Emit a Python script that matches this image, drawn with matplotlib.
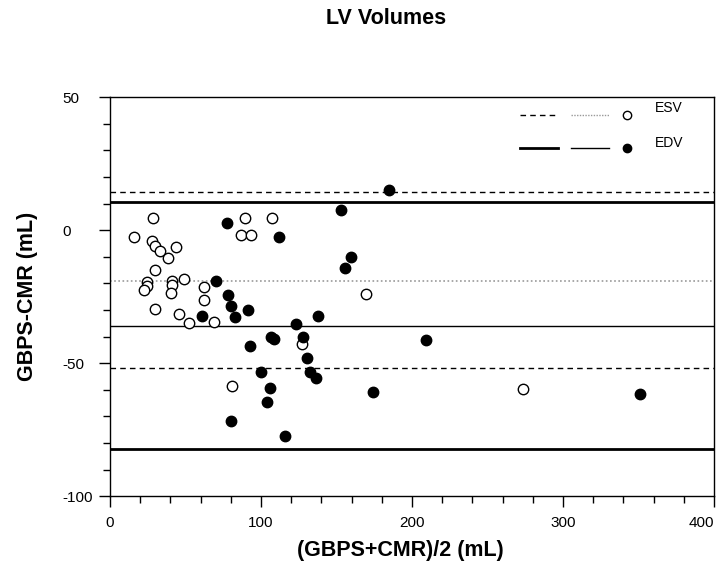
#!/usr/bin/env python3

import numpy as np
import matplotlib
matplotlib.use('Agg')
import matplotlib.pyplot as plt
from matplotlib.ticker import MultipleLocator

plt.rcParams['font.family'] = ['Liberation Sans', 'DejaVu Sans']
plt.rcParams['axes.unicode_minus'] = False

# ESV (open circles): mean and difference
esv_mean = [28.4, 16.0, 27.8, 29.5, 32.8, 43.9, 38.1, 29.5, 24.8, 24.2,
            22.4, 41.1, 40.8, 40.4, 48.8, 29.8, 45.7, 52.4, 62.4, 62.4,
            69.2, 86.7, 93.6, 89.6, 107.4, 169.6, 126.9, 80.5, 273.7]
esv_diff = [4.6, -2.5, -4.0, -6.0, -7.8, -6.3, -10.6, -15.0, -19.5, -20.9,
            -22.4, -19.2, -20.6, -23.8, -18.3, -29.6, -31.7, -35.0, -21.2, -26.4,
            -34.6, -1.9, -1.9, 4.4, 4.6, -24.1, -42.9, -58.4, -59.9]

# EDV (filled circles)
edv_mean = [77.2, 111.8, 70.1, 77.9, 80.1, 82.5, 91.6, 61.0, 92.5, 106.5,
            108.3, 153.1, 185.0, 159.7, 155.7, 137.8, 123.3, 127.8, 130.6, 100.0,
            132.2, 136.6, 173.9, 106.0, 103.8, 79.9, 115.8, 209.0, 351.0]
edv_diff = [2.7, -2.5, -19.2, -24.2, -28.6, -32.8, -30.1, -32.1, -43.5, -40.3,
            -41.1, 7.5, 15.0, -10.2, -14.3, -32.3, -35.2, -40.3, -48.1, -53.3,
            -53.4, -55.4, -60.8, -59.5, -64.5, -71.8, -77.4, -41.4, -61.5]

# bias and limits of agreement
esv_bias = -19.0
esv_limits = [14.3, -52.0]
edv_bias = -36.0
edv_limits = [10.5, -82.3]

x_ticks = [0, 100, 200, 300, 400]
y_ticks = [-100, -50, 0, 50]

fig = plt.figure(figsize=(7.19, 5.71), dpi=100)
ax = fig.add_axes([0.153, 0.131, 0.840, 0.699])

ax.axhline(esv_bias, color='#999999', lw=1.2, ls=(0, (1, 1.5)), zorder=1)
for v in esv_limits:
    ax.axhline(v, color='black', lw=1.0, ls=(0, (4, 3)), zorder=1)
ax.axhline(edv_bias, color='black', lw=1.0, zorder=1)
for v in edv_limits:
    ax.axhline(v, color='black', lw=2.0, zorder=1)

ax.plot(esv_mean, esv_diff, 'o', ms=7.5, mfc='white', mec='black', mew=1.0,
        ls='none', zorder=3)
ax.plot(edv_mean, edv_diff, 'o', ms=7.5, mfc='black', mec='black', mew=1.0,
        ls='none', zorder=3)

# legend drawn by hand, like the original
tr = ax.transAxes
ax.plot([0.679, 0.742], [0.955, 0.955], color='black', lw=1.0, ls=(0, (4, 3)), transform=tr)
ax.plot([0.763, 0.826], [0.955, 0.955], color='#999999', lw=1.0, ls=(0, (1, 1)), transform=tr)
ax.plot([0.856], [0.955], 'o', ms=6, mfc='white', mec='black', mew=1.0, transform=tr)
ax.text(0.902, 0.972, 'ESV', transform=tr, fontsize=10, va='center', ha='left')
ax.plot([0.679, 0.742], [0.872, 0.872], color='black', lw=2.0, transform=tr)
ax.plot([0.763, 0.826], [0.872, 0.872], color='black', lw=1.0, transform=tr)
ax.plot([0.856], [0.872], 'o', ms=6, mfc='black', mec='black', mew=1.0, transform=tr)
ax.text(0.902, 0.885, 'EDV', transform=tr, fontsize=10, va='center', ha='left')

ax.set_xlim(0, 400)
ax.set_ylim(-100, 50)
ax.set_xticks(x_ticks)
ax.set_yticks(y_ticks)
ax.xaxis.set_minor_locator(MultipleLocator(20))
ax.yaxis.set_minor_locator(MultipleLocator(10))
ax.tick_params(which='major', direction='out', length=8, width=1, labelsize=11)
ax.tick_params(which='minor', direction='out', length=5, width=1)
ax.tick_params(axis='x', which='major', pad=6)
ax.tick_params(axis='y', which='major', pad=26)
for t in ax.yaxis.get_major_ticks():
    t.label1.set_horizontalalignment('left')
ax.xaxis.get_major_ticks()[-1].label1.set_horizontalalignment('right')
for s in ax.spines.values():
    s.set_linewidth(1.0)

ax.set_xlabel('(GBPS+CMR)/2 (mL)', fontsize=15.5, fontweight='bold', va='center')
ax.xaxis.set_label_coords(0.480, -0.135)
ax.set_ylabel('GBPS-CMR (mL)', fontsize=15.5, fontweight='bold', va='center')
ax.yaxis.set_label_coords(-0.136, 0.5)
fig.text(0.537, 0.968, 'LV Volumes', fontsize=15.5, fontweight='bold',
         ha='center', va='center')

plt.savefig('out.png', dpi=100)
